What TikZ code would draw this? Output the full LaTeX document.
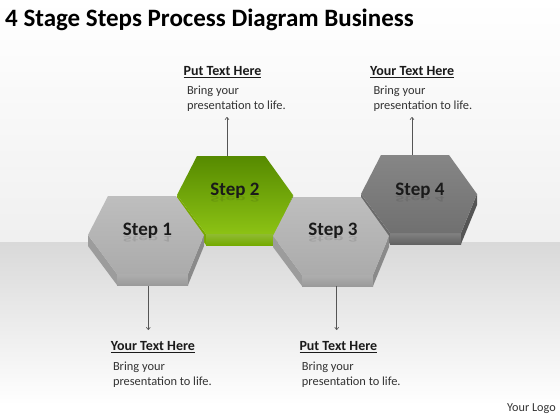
\documentclass[tikz,border=0pt]{standalone}
\usepackage{fontspec}
\setmainfont{Carlito}
\usetikzlibrary{arrows.meta}
\definecolor{txt}{HTML}{1A1A1A}
\definecolor{body}{HTML}{333333}
\definecolor{lnk}{HTML}{555555}
\definecolor{gfaceT}{HTML}{BEBEBE}
\definecolor{gfaceB}{HTML}{ABABAB}
\definecolor{gsideL}{HTML}{9C9C9C}
\definecolor{gsideB}{HTML}{9A9A9A}
\definecolor{gsideR}{HTML}{8A8A8A}
\definecolor{nfaceT}{HTML}{568A00}
\definecolor{nfaceB}{HTML}{8CC214}
\definecolor{nsideL}{HTML}{78A800}
\definecolor{nsideB}{HTML}{74AA00}
\definecolor{nsideR}{HTML}{5E8A00}
\definecolor{dfaceT}{HTML}{868686}
\definecolor{dfaceB}{HTML}{707070}
\definecolor{dsideL}{HTML}{6A6A6A}
\definecolor{dsideB}{HTML}{626262}
\definecolor{dsideR}{HTML}{555555}
\newcommand{\hexprism}[7]{%
  \begin{scope}[shift={(#1,#2)}]
    \fill[#5] (-58,0) -- (-29,39) -- (-29,50) -- (-58,11) -- cycle;
    \shade[top color=#6!80!white, bottom color=#6] (-29,39) -- (42,39) -- (42,50) -- (-29,50) -- cycle;
    \fill[#7] (42,39) -- (58,0) -- (58,11) -- (42,50) -- cycle;
    \shade[top color=#3, bottom color=#4] (-58,0) -- (-38,-39) -- (30,-39) -- (58,0) -- (42,39) -- (-29,39) -- cycle;
  \end{scope}}
\tikzset{
  steplabel/.style={font=\fontsize{19}{22}\selectfont\bfseries, text=txt, anchor=base, inner sep=0pt},
  steprefl/.style={font=\fontsize{19}{22}\selectfont\bfseries, text=txt, anchor=base, inner sep=0pt, yscale=-0.45, opacity=0.12},
  headlabel/.style={font=\fontsize{14}{16}\selectfont\bfseries, text=txt, anchor=base west, inner sep=0pt},
  bodytext/.style={font=\fontsize{12.4}{15}\selectfont, text=body, anchor=north west, inner sep=0pt, align=left},
  connector/.style={draw=lnk, line width=0.6pt, -{To[length=3pt,width=4.5pt]}}
}
\begin{document}
\begin{tikzpicture}[x=1pt,y=-1pt]
\useasboundingbox (0,0) rectangle (560,420);
% background
\shade[top color=white, bottom color=black!6] (0,0) rectangle (560,242);
\shade[top color=black!15, bottom color=white] (0,242) rectangle (560,405);
\fill[white] (0,405) rectangle (560,420);
% title
\node[anchor=base west, inner sep=0pt, font=\fontsize{25}{28}\selectfont\bfseries, text=black] (title) at (5,27) {4 Stage Steps Process Diagram Business};
% hexagons: back row first
\hexprism{235}{195}{nfaceT}{nfaceB}{nsideL}{nsideB}{nsideR}
\hexprism{419}{194}{dfaceT}{dfaceB}{dsideL}{dsideB}{dsideR}
\hexprism{146}{235}{gfaceT}{gfaceB}{gsideL}{gsideB}{gsideR}
\hexprism{331}{236}{gfaceT}{gfaceB}{gsideL}{gsideB}{gsideR}
% step labels with faint reflection
\node[steprefl] (r1) at (147.5,236.5) {Step 1};
\node[steprefl] (r2) at (235,196.5) {Step 2};
\node[steprefl] (r3) at (333,236.5) {Step 3};
\node[steprefl] (r4) at (420,196.5) {Step 4};
\node[steplabel] (s1) at (147.5,235.5) {Step 1};
\node[steplabel] (s2) at (235,195.5) {Step 2};
\node[steplabel] (s3) at (333,235.5) {Step 3};
\node[steplabel] (s4) at (420,195.5) {Step 4};
% anchor points of connectors
\coordinate (s2top) at (227,156);
\coordinate (s4top) at (412,155);
\coordinate (s1bot) at (148.3,286);
\coordinate (s3bot) at (336.7,286);
\coordinate (t2end) at (227,117);
\coordinate (t4end) at (412,117);
\coordinate (b1end) at (148.3,330);
\coordinate (b3end) at (336.7,330);
% text blocks
\node[headlabel] (h2) at (183.5,76) {\underline{Put Text Here}};
\node[bodytext] (d2) at (186.8,85.5) {Bring your\\presentation to life.};
\node[headlabel] (h4) at (370,76) {\underline{Your Text Here}};
\node[bodytext] (d4) at (373.3,85.5) {Bring your\\presentation to life.};
\node[headlabel] (h1) at (110.7,350.5) {\underline{Your Text Here}};
\node[bodytext] (d1) at (112.8,361.8) {Bring your\\presentation to life.};
\node[headlabel] (h3) at (299.3,350.5) {\underline{Put Text Here}};
\node[bodytext] (d3) at (301.7,361.8) {Bring your\\presentation to life.};
% connectors
\draw[connector] (s2top) -- (t2end);
\draw[connector] (s4top) -- (t4end);
\draw[connector] (s1bot) -- (b1end);
\draw[connector] (s3bot) -- (b3end);
% logo
\node[anchor=base west, inner sep=0pt, font=\fontsize{12.2}{14}\selectfont, text=body] (logo) at (507,411) {Your Logo};
\end{tikzpicture}
\end{document}
